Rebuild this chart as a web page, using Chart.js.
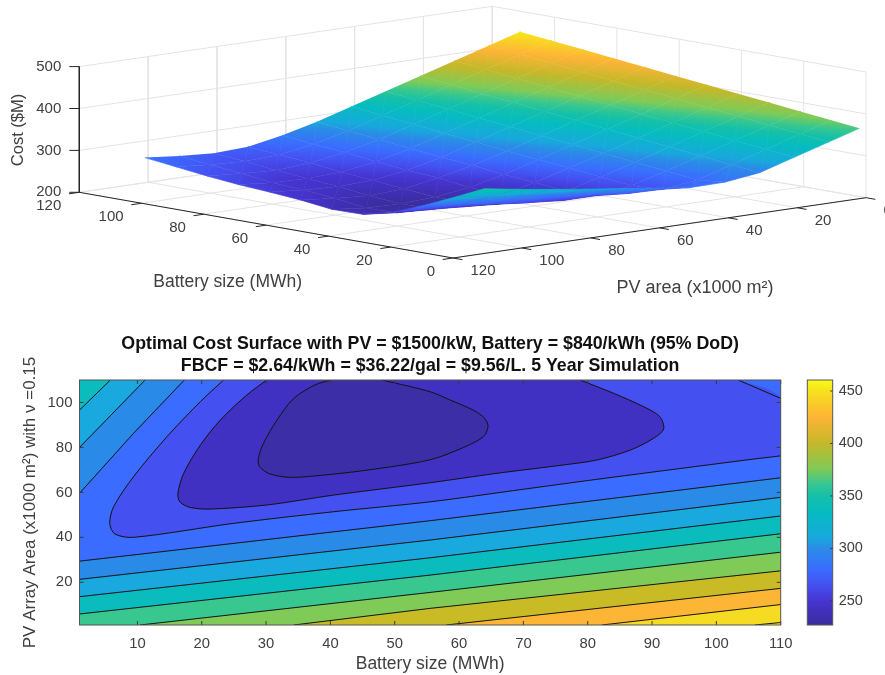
<!DOCTYPE html>
<html><head><meta charset="utf-8">
<style>
html,body{margin:0;padding:0;background:#fff;width:885px;height:675px;overflow:hidden}
canvas{position:absolute;display:block;filter:blur(0.35px)}
</style>
<script src="https://cdn.jsdelivr.net/npm/chart.js@4"></script>
</head><body>
<canvas id="surf" width="885" height="320" style="left:0;top:0"></canvas>
<canvas id="cont" width="795" height="350" style="left:0;top:325px"></canvas>
<canvas id="cbar" width="90" height="350" style="left:795px;top:325px"></canvas>
<script>
// ---------- data ----------
const batteryKnots=[1,10,20,30,40,50,60,70,80,90,100,110];
const pvKnots=[1,10,20,30,40,50,60,70,80,90,100,110];
const costB1  =[365.6,343.5,319,294.5,284,283,293,304.5,315,326.5,338.5,352];
const costB10 =[372.9,350.8,326.3,301.8,277,267,269,279,289,299.5,310.5,321];
const costB20 =[381,358.9,334.4,309.9,285.4,263,251,251,258,267,277,288];
const costB30 =[389,367,342.5,318,293.5,270,249,241,241,247,252,258];
const costB40 =[397.1,375,350.5,326,301.5,279,256,238,232,230,232,240];
const costB50 =[405.2,383.2,358.7,334.2,309.7,285.2,262,243,232,228,230,239];
const costB60 =[413.3,391.2,366.7,342.2,317.7,293.2,271,253,239,234,240,248];
const costB70 =[421.4,399.3,374.8,350.3,325.8,301.3,276.8,258,246,243,247,254];
const costB80 =[429.5,407.4,382.9,358.4,333.9,309.4,284.9,266,253,249,251,259];
const costB90 =[437.6,415.5,391,366.5,342,317.5,293,275,262,256,260,266];
const costB100=[445.6,423.6,399.1,374.6,350.1,325.6,301.1,281,268,264,268,275];
const costB110=[453.7,431.7,407.2,382.7,358.2,333.7,309.2,289,274,270,276,284];
const costRows=[costB1,costB10,costB20,costB30,costB40,costB50,costB60,costB70,costB80,costB90,costB100,costB110];

const batteryTicks3d=[0,20,40,60,80,100,120];
const pvTicks3d=[0,20,40,60,80,100,120];
const costTicks3d=[200,300,400,500];
const xTicks2d=[10,20,30,40,50,60,70,80,90,100,110];
const yTicks2d=[20,40,60,80,100];
const barTicks=[250,300,350,400,450];
const barRange=[227,460.5];

// contour lines, [battery, pv]
const lineI=[[40,110],[37.6,107.8],[34.3,101.8],[31.7,92.2],[29.6,81.8],[28.8,75.1],[29,71.4],[30.6,68.2],[33.7,66.7],[37.9,67.4],[45.7,69.9],[55.5,74.5],[60.7,80],[63.8,84.8],[64.5,89.2],[64,92.9],[62.2,96.6],[58.6,101.1],[55.5,104.8],[48,110]];
const lineK=[[30.1,110],[27,103.3],[22.9,92.2],[19.8,81.1],[17.2,68.5],[16.3,59.6],[16.6,55.8],[18.2,53.3],[21.3,52.6],[30.1,54.4],[40.5,58.8],[55.5,64.3],[65.9,68.5],[76.2,72.2],[81.4,74.4],[86.6,78.8],[90.2,84],[91.8,88.2],[91.2,93.7],[88.7,98.1],[84,104.1],[78.8,110]];
const line0=[[23.4,110],[19.8,100.4],[14.6,84.8],[9.4,67],[6.3,53.6],[5.7,46.2],[6.5,41.5],[9.4,40],[24.9,46.2],[40.5,51.4],[55.5,55.8],[70,61.4],[81.4,65.8],[90,69],[100,72.7],[106,74.9],[109,75.9],[110,76.3]];
const line0corner=[[110,101.8],[103.4,110]];
const line1=[[1,29.4],[55.5,47.4],[110,66.5]];
const line1top=[[17.3,110],[9.4,86.3],[1,59.6]];
const line2=[[1,21.3],[55.5,38.8],[110,57.8]];
const line2top=[[11.2,110],[1,80]];
const line3=[[1,13.6],[55.5,30.9],[110,49.5]];
const line3top=[[5.8,110],[1,96.6]];
const line4=[[1,5.9],[55.5,23.2],[110,41.6]];
const line5=[[10.4,1],[55.5,15.5],[110,33.4]];
const line6=[[34.3,1],[55.5,8.4],[110,25.1]];
const line7=[[58,1],[110,17.3]];
const line8=[[82.2,1],[110,10.1]];
const line9=[[106,1],[110,2.1]];
const bandColors=['#f7e01e','#f5dc22','#fdb536','#c8bb26','#80cb58','#38c78f','#0abcbd','#1aa9df','#2a8ae8','#3a6cff','#4450f0','#4131c2','#3b2ea6'];
// colormap stops [cost, colour]
const colorMapCosts=[227,235,250,265,280,300,310,335,350,362,375,400,425,450,460.5];
const colorMapHex=['#3a2c9c','#3e2eb0','#4535d0','#4450f0','#3a6cff','#2a8ce6','#18a8dc','#06bcc0','#14c0a8','#38c78f','#7ecb58','#c4b829','#fdb436','#f7e01e','#fafc14'];

const FONT='"Liberation Sans", Arial, sans-serif';
const TXT='#404040', AX='#262626', GRID='#e4e4e4';
Chart.defaults.font.family=FONT;
Chart.defaults.animation=false;
Chart.defaults.responsive=false;
Chart.defaults.events=[];
Chart.defaults.plugins.legend.display=false;
Chart.defaults.plugins.tooltip.enabled=false;

// colour helpers
const rgbStops=colorMapHex.map(h=>[1,3,5].map(i=>parseInt(h.slice(i,i+2),16)));
function cmap(c){
  const n=colorMapCosts.length;
  if(c<=colorMapCosts[0])return colorMapHex[0];
  if(c>=colorMapCosts[n-1])return colorMapHex[n-1];
  let i=1;while(colorMapCosts[i]<c)i++;
  const t=(c-colorMapCosts[i-1])/(colorMapCosts[i]-colorMapCosts[i-1]);
  const a=rgbStops[i-1],b=rgbStops[i];
  return `rgb(${a.map((v,k)=>Math.round(v+(b[k]-v)*t)).join(',')})`;
}
function addStops(g){
  const lo=colorMapCosts[0],hi=colorMapCosts[colorMapCosts.length-1];
  colorMapCosts.forEach((c,i)=>g.addColorStop((c-lo)/(hi-lo),colorMapHex[i]));
  return g;
}

// ---------- 3D view: an orthographic map from (battery,pv,cost) to the plane ----------
const V={L:[79.3,192.3],F:[453,258],R:[866,197.7],unit:125.7/300,top:120,base:200};
function project(b,p,c){
  const u=b/V.top,v=(V.top-p)/V.top;
  return {x:V.F[0]+u*(V.L[0]-V.F[0])+v*(V.R[0]-V.F[0]),
          y:V.F[1]+u*(V.L[1]-V.F[1])+v*(V.R[1]-V.F[1])-(c-V.base)*V.unit};
}
const seg=(pts,color,w)=>({type:'scatter',showLine:true,data:pts,borderColor:color,borderWidth:w,pointRadius:0,fill:false,tension:0,clip:false});

function triFill(tri){
  return function(c){
    const chart=c.chart,sx=chart.scales.x,sy=chart.scales.y;
    const px=(s,v)=>{const r=s?s.getPixelForValue(v):NaN;return Number.isFinite(r)?r:v;};
    const pts=tri.map(t=>[px(sx,t.x),px(sy,t.y),t.c]);
    const mean=(pts[0][2]+pts[1][2]+pts[2][2])/3;
    const d1=[pts[1][0]-pts[0][0],pts[1][1]-pts[0][1],pts[1][2]-pts[0][2]];
    const d2=[pts[2][0]-pts[0][0],pts[2][1]-pts[0][1],pts[2][2]-pts[0][2]];
    const det=d1[0]*d2[1]-d1[1]*d2[0];
    if(Math.abs(det)<1)return cmap(mean);
    const gx=(d1[2]*d2[1]-d2[2]*d1[1])/det, gy=(d2[2]*d1[0]-d1[2]*d2[0])/det;
    const g2=gx*gx+gy*gy;
    if(g2<1e-6)return cmap(mean);
    const lo=colorMapCosts[0],hi=colorMapCosts[colorMapCosts.length-1];
    const a=(lo-pts[0][2])/g2,b=(hi-pts[0][2])/g2;
    return addStops(chart.ctx.createLinearGradient(pts[0][0]+gx*a,pts[0][1]+gy*a,pts[0][0]+gx*b,pts[0][1]+gy*b));
  };
}
function surfTri(a,b,d){
  const tri=[a,b,d].map(([i,j])=>{const c=costRows[i][j];const q=project(batteryKnots[i],pvKnots[j],c);return {x:q.x,y:q.y,c};});
  const f=triFill(tri);
  return {type:'scatter',showLine:true,data:tri.map(t=>({x:t.x,y:t.y})),fill:'shape',backgroundColor:f,borderColor:f,borderWidth:0.7,pointRadius:0,tension:0};
}
const painter3d=[];
// walls and floor
costTicks3d.forEach(c=>{
  painter3d.push(seg([project(120,120,c),project(120,0,c),project(0,0,c)],GRID,1));
});
pvTicks3d.forEach(p=>{
  painter3d.push(seg([project(120,p,500),project(120,p,200),project(0,p,200)],GRID,1));
});
batteryTicks3d.forEach(b=>{
  painter3d.push(seg([project(b,120,200),project(b,0,200),project(b,0,500)],GRID,1));
});
// surface, far to near
for(let i=batteryKnots.length-1;i>=1;i--){
  for(let j=0;j<pvKnots.length-1;j++){
    painter3d.push(surfTri([i,j],[i-1,j+1],[i-1,j]));
    painter3d.push(surfTri([i,j],[i-1,j+1],[i,j+1]));
  }
}
// axes
painter3d.push(seg([project(120,120,500),project(120,120,200),project(0,120,200),project(0,0,200)],AX,1));
costTicks3d.forEach(c=>{const a=project(120,120,c);painter3d.push(seg([a,{x:a.x-10,y:a.y}],AX,1));});
batteryTicks3d.forEach(b=>painter3d.push(seg([project(b,120,200),project(b,123,200)],AX,1)));
pvTicks3d.forEach(p=>painter3d.push(seg([project(0,p,200),project(-3,p,200)],AX,1)));

const labels3d={id:'labels3d',afterDraw(chart){
  const ctx=chart.ctx,sx=chart.scales.x,sy=chart.scales.y;
  ctx.save();ctx.fillStyle=TXT;ctx.font='15px '+FONT;ctx.textBaseline='middle';
  costTicks3d.forEach(c=>{const q=project(120,120,c);ctx.textAlign='right';ctx.fillText(String(c),sx.getPixelForValue(q.x)-18,sy.getPixelForValue(q.y));});
  batteryTicks3d.forEach(b=>{const q=project(b,120,200);ctx.textAlign='right';ctx.fillText(String(b),sx.getPixelForValue(q.x)-18,sy.getPixelForValue(q.y)+13.5);});
  pvTicks3d.forEach(p=>{const q=project(0,p,200);ctx.textAlign='left';ctx.fillText(String(p),sx.getPixelForValue(q.x)+17.5,sy.getPixelForValue(q.y)+13);});
  ctx.textAlign='center';
  ctx.font='17.5px '+FONT;
  ctx.fillText('Battery size (MWh)',227.7,281.7);
  ctx.font='18px '+FONT;
  ctx.fillText('PV area (x1000 m²)',695,288);
  ctx.font='16.5px '+FONT;
  ctx.translate(18.5,130);ctx.rotate(-Math.PI/2);ctx.fillText('Cost ($M)',0,0);
  ctx.restore();
}};
new Chart(document.getElementById('surf'),{type:'scatter',
  data:{datasets:painter3d.slice().reverse()},
  plugins:[labels3d],
  options:{layout:{padding:0,autoPadding:false},
    scales:{x:{type:'linear',display:false,min:0,max:885},y:{type:'linear',display:false,min:0,max:320,reverse:true}},
    plugins:{filler:{drawTime:'beforeDatasetDraw'}}}
});

// ---------- filled contour ----------
const TL=[1,110],TR=[110,110],BL=[1,1],BR=[110,1];
const regions=[
  [BL,BR,TR,TL],
  [...line9,TR,TL,BL],
  [...line8,TR,TL,BL],
  [...line7,TR,TL,BL],
  [...line6,TR,TL,BL],
  [...line5,TR,TL,BL],
  [...line4,TR,TL],
  [...line3,TR,...line3top],
  [...line2,TR,...line2top],
  [...line1,TR,...line1top],
  [...line0,...line0corner],
  lineK,
  lineI
];
const curved=new Set([lineI,lineK,line0]);
const contourLines=[lineI,lineK,line0,line0corner,line1,line1top,line2,line2top,line3,line3top,line4,line5,line6,line7,line8,line9];
const xy=a=>a.map(([x,y])=>({x,y}));
const painter2d=regions.map((r,i)=>({type:'scatter',showLine:true,data:xy(r),fill:'shape',backgroundColor:bandColors[i],borderColor:bandColors[i],borderWidth:0.5,pointRadius:0,tension:i>=10?0.3:0}));
contourLines.forEach(l=>painter2d.push({type:'scatter',showLine:true,data:xy(l),fill:false,borderColor:'#141414',borderWidth:1,pointRadius:0,tension:curved.has(l)?0.3:0}));

function innerTicks(horiz,vert,len){
  return {id:'innerTicks',afterDatasetsDraw(chart){
    const ctx=chart.ctx,a=chart.chartArea;
    ctx.save();ctx.strokeStyle='#3a3a3a';ctx.lineWidth=1;ctx.beginPath();
    horiz.forEach(v=>{const x=chart.scales.x.getPixelForValue(v);ctx.moveTo(x,a.top);ctx.lineTo(x,a.top+len);ctx.moveTo(x,a.bottom);ctx.lineTo(x,a.bottom-len);});
    vert.forEach(v=>{const y=chart.scales.y.getPixelForValue(v);ctx.moveTo(a.left,y);ctx.lineTo(a.left+len,y);ctx.moveTo(a.right,y);ctx.lineTo(a.right-len,y);});
    ctx.stroke();
    ctx.strokeStyle='#555';ctx.strokeRect(a.left,a.top,a.right-a.left,a.bottom-a.top);
    ctx.restore();
  }};
}
new Chart(document.getElementById('cont'),{type:'scatter',
  data:{datasets:painter2d.slice().reverse()},
  plugins:[innerTicks(xTicks2d,yTicks2d,4)],
  options:{layout:{autoPadding:false,padding:{top:0,right:14.3,bottom:0,left:0}},
    plugins:{filler:{drawTime:'beforeDatasetDraw'},
      title:{display:true,fullSize:false,text:['Optimal Cost Surface with PV = $1500/kW, Battery = $840/kWh (95% DoD)','FBCF = $2.64/kWh = $36.22/gal = $9.56/L. 5 Year Simulation'],
        color:'#111',font:{size:17.8,weight:'bold',lineHeight:'22px'},padding:{top:8,bottom:3}}},
    scales:{
      x:{type:'linear',min:1,max:110,grid:{display:false,drawTicks:false},border:{display:false},
        afterBuildTicks:s=>{s.ticks=xTicks2d.map(value=>({value}));},
        afterFit:s=>{s.height=50;s.paddingLeft=0;s.paddingRight=0;},
        ticks:{autoSkip:false,maxRotation:0,color:TXT,font:{size:14.8},padding:10},
        title:{display:true,text:'Battery size (MWh)',color:TXT,font:{size:17.5},padding:{top:0,bottom:0}}},
      y:{type:'linear',min:1,max:110,grid:{display:false,drawTicks:false},border:{display:false},
        afterBuildTicks:s=>{s.ticks=yTicks2d.map(value=>({value}));},
        afterFit:s=>{s.width=79.5;s.paddingTop=0;s.paddingBottom=0;},
        ticks:{autoSkip:false,color:TXT,font:{size:15},padding:7},
        title:{display:true,text:'PV Array Area (x1000 m²) with ν =0.15',color:TXT,font:{size:17},padding:{top:20,bottom:0}}}
    }}
});

// ---------- colour bar ----------
new Chart(document.getElementById('cbar'),{type:'bar',
  data:{labels:[''],datasets:[{data:[barRange],barPercentage:1,categoryPercentage:1,
    backgroundColor:c=>{const s=c.chart.scales.y;const a=s.getPixelForValue(barRange[0]),b=s.getPixelForValue(barRange[1]);return Number.isFinite(a)&&Number.isFinite(b)?addStops(c.chart.ctx.createLinearGradient(0,a,0,b)):colorMapHex[0];}}]},
  plugins:[{id:'barBox',afterDatasetsDraw(chart){
    const ctx=chart.ctx,a=chart.chartArea;
    ctx.save();ctx.strokeStyle='#3a3a3a';ctx.lineWidth=1;ctx.beginPath();
    barTicks.forEach(v=>{const y=chart.scales.y.getPixelForValue(v);ctx.moveTo(a.right,y);ctx.lineTo(a.right-2.5,y);});
    ctx.stroke();
    ctx.strokeStyle='#555';ctx.strokeRect(a.left,a.top,a.right-a.left,a.bottom-a.top);
    ctx.restore();
  }}],
  options:{layout:{autoPadding:false,padding:{top:55,bottom:50,left:12.3,right:0}},
    scales:{
      x:{display:false},
      y:{position:'right',min:barRange[0],max:barRange[1],grid:{display:false,drawTicks:false},border:{display:false},
        afterBuildTicks:s=>{s.ticks=barTicks.map(value=>({value}));},
        afterFit:s=>{s.width=52.3;s.paddingTop=0;s.paddingBottom=0;},
        ticks:{color:TXT,font:{size:14.5},padding:6}}
    }}
});
</script>
</body></html>
